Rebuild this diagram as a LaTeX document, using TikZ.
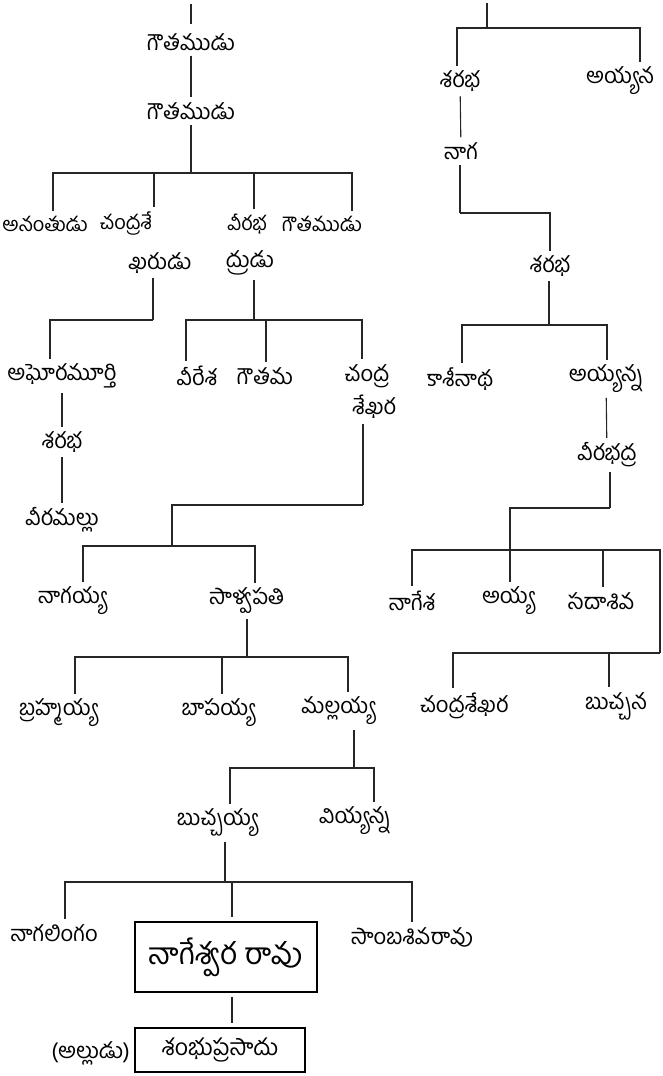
\documentclass[tikz,border=0pt]{standalone}
\usepackage{fontspec}
\newfontfamily\te[Script=Telugu]{Hind Guntur}
\begin{document}
\begin{tikzpicture}[x=1pt,y=-1pt,
  nm/.style={font=\te\fontsize{22}{25}\selectfont, inner sep=0pt, outer sep=5pt},
  sm/.style={nm, font=\te\fontsize{20}{23}\selectfont},
  big/.style={font=\te\fontsize{30}{34}\selectfont, draw, line width=1.8pt, minimum width=182pt, minimum height=70pt, inner sep=0pt, outer sep=0pt},
  mid/.style={font=\te\fontsize{23}{26}\selectfont, draw, line width=1.5pt, minimum width=170pt, minimum height=44pt, inner sep=0pt, outer sep=0pt},
  ln/.style={draw=black!85, line width=1.1pt}]
\useasboundingbox (0,0) rectangle (662,1076);
% ---------- left tree ----------
\coordinate (t0) at (191,4);
\coordinate (t1) at (191,24);
\node[nm] (g1) at (191,42) {గౌతముడు};
\node[nm] (g2) at (191,111) {గౌతముడు};
\coordinate (j1) at (191,173);
\node[sm] (anan) at (45,224) {అనంతుడు};
\node[sm] (chs1) at (126,224) {చంద్రశే};
\node[nm] (chs2) at (160,263) {ఖరుడు};
\node[sm] (vb1) at (247,224) {వీరభ};
\node[nm] (vb2) at (250,263) {ద్రుడు};
\node[sm] (g3) at (322,224) {గౌతముడు};
\draw[ln] (t0) -- (t1);
\draw[ln] (g1) -- (g2);
\draw[ln] (g2) -- (j1);
\draw[ln] (j1) -| ([xshift=8pt]anan.north);
\draw[ln] (j1) -| ([xshift=28pt]chs1.north);
\draw[ln] (j1) -| ([xshift=7pt]vb1.north);
\draw[ln] (j1) -| ([xshift=30pt]g3.north);
% next generation
\coordinate (j2) at (153,320);
\coordinate (j3) at (254,320);
\node[nm] (agh) at (62,376) {అఘోరమూర్తి};
\node[nm] (vrs) at (197,376) {వీరేశ};
\node[nm] (gtm) at (265,376) {గౌతమ};
\node[nm] (c2a) at (367,376) {చంద్ర};
\node[nm] (c2b) at (374,407) {శేఖర};
\draw[ln] (chs2.south -| j2) -- (j2);
\draw[ln] (j2) -| ([xshift=-12pt]agh.north);
\draw[ln] (vb2.south -| j3) -- (j3);
\draw[ln] (j3) -| ([xshift=-11pt]vrs.north);
\draw[ln] (j3) -| ([xshift=1pt]gtm.north);
\draw[ln] (j3) -| ([xshift=-5pt]c2a.north);
\node[nm] (sr1) at (62,442) {శరభ};
\node[nm] (vml) at (62,520) {వీరమల్లు};
\draw[ln] (agh) -- (sr1);
\draw[ln] (sr1) -- (vml);
% branch from chandrasekhara
\coordinate (j5) at (363,505);
\coordinate (j6) at (172,546);
\node[nm] (nag) at (72,601) {నాగయ్య};
\node[nm] (slv) at (247,601) {సాళ్వపతి};
\draw[ln] (c2b.south -| j5) -- (j5);
\draw[ln] (j5) -| (j6);
\draw[ln] (j6) -| ([xshift=11pt]nag.north);
\draw[ln] (j6) -| ([xshift=8pt]slv.north);
\coordinate (j7) at (247,657);
\node[nm] (bra) at (58,713) {బ్రహ్మయ్య};
\node[nm] (bap) at (218,713) {బాపయ్య};
\node[nm] (mal) at (338,711) {మల్లయ్య};
\draw[ln] (slv.south -| j7) -- (j7);
\draw[ln] (j7) -| ([xshift=17pt]bra.north);
\draw[ln] (j7) -| ([xshift=4pt]bap.north);
\draw[ln] (j7) -| ([xshift=10pt]mal.north);
\coordinate (j8) at (354,768);
\node[nm] (buc) at (217,823) {బుచ్చయ్య};
\node[nm] (viy) at (355,821) {వియ్యన్న};
\draw[ln] (mal.south -| j8) -- (j8);
\draw[ln] (j8) -| ([xshift=13pt]buc.north);
\draw[ln] (j8) -| ([xshift=19pt]viy.north);
\coordinate (j9) at (225,882);
\node[nm] (nlg) at (54,933) {నాగలింగం};
\node[big] (ngr) at (226,957) {నాగేశ్వర రావు};
\node[nm] (sam) at (412,937) {సాంబశివరావు};
\draw[ln] (buc.south -| j9) -- (j9);
\draw[ln] (j9) -| ([xshift=11pt]nlg.north);
\draw[ln, shorten >=5pt] (j9) -| ([xshift=6pt]ngr.north);
\draw[ln] (j9) -| (sam.north);
\coordinate (j10) at (232,1000);
\node[mid] (sbp) at (220,1050) {శంభుప్రసాదు};
\node[nm, anchor=east] (all) at (135,1053) {(అల్లుడు)};
\draw[ln, shorten <=5pt, shorten >=5pt] (ngr.south -| j10) -- (sbp.north -| j10);
% ---------- right tree ----------
\coordinate (rt) at (487,3);
\coordinate (rj0) at (487,28);
\node[nm] (rs1) at (460,81) {శరభ};
\node[nm] (ayn) at (620,81) {అయ్యన};
\draw[ln] (rt) -- (rj0);
\draw[ln] (rj0) -| ([xshift=-3pt]rs1.north);
\draw[ln] (rj0) -| ([xshift=20pt]ayn.north);
\node[nm] (rn) at (461,151) {నాగ};
\draw[ln] (rs1) -- (rn);
\coordinate (rj1) at (460,213);
\node[nm] (rs2) at (550,266) {శరభ};
\draw[ln] (rn.south -| rj1) -- (rj1);
\draw[ln] (rj1) -| (rs2.north);
\coordinate (rj2) at (549,325);
\node[nm] (kas) at (460,379) {కాశీనాథ};
\node[nm] (ay2) at (606,379) {అయ్యన్న};
\draw[ln] (rs2.south -| rj2) -- (rj2);
\draw[ln] (rj2) -| ([xshift=2pt]kas.north);
\draw[ln] (rj2) -| ([xshift=1pt]ay2.north);
\node[nm] (vbd) at (607,455) {వీరభద్ర};
\draw[ln] (ay2) -- (vbd);
\coordinate (rj3) at (610,508);
\coordinate (rj4) at (510,550);
\coordinate (rj5) at (660,550);
\coordinate (rj6) at (660,653);
\node[nm] (nge) at (412,601) {నాగేశ};
\node[nm] (ay3) at (508,601) {అయ్య};
\node[nm] (sda) at (601,601) {సదాశివ};
\draw[ln] (vbd.south -| rj3) -- (rj3);
\draw[ln] (rj3) -| (rj4);
\draw[ln] (rj4) -| (nge.north);
\draw[ln] (rj4) -- (rj4 |- ay3.north);
\draw[ln] (rj4) -| ([xshift=2pt]sda.north);
\draw[ln] (rj4) -- (rj5) -- (rj6);
\node[nm] (cs3) at (464,706) {చంద్రశేఖర};
\node[nm] (bcn) at (616,706) {బుచ్చన};
\draw[ln] (rj6) -| ([xshift=-11pt]cs3.north);
\draw[ln] (rj6) -| ([xshift=-7pt]bcn.north);
\end{tikzpicture}
\end{document}
